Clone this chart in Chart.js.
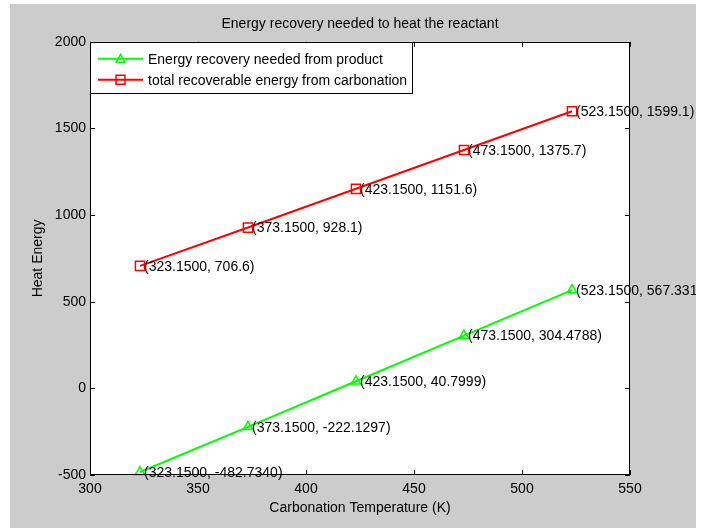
<!DOCTYPE html>
<html>
<head>
<meta charset="utf-8">
<script src="https://cdn.jsdelivr.net/npm/chart.js@4.4.1/dist/chart.umd.min.js"></script>
<style>
  html, body { margin: 0; padding: 0; background: #fff; }
  canvas { display: block; }
</style>
</head>
<body>
<canvas id="chart" width="705" height="529"></canvas>
<script>
// data
const temps = [323.15, 373.15, 423.15, 473.15, 523.15];
const neededFromProduct = [-482.7340, -222.1297, 40.7999, 304.4788, 567.331];
const totalRecoverable = [706.6, 928.1, 1151.6, 1375.7, 1599.1];
const productLabels = ['-482.7340', '-222.1297', '40.7999', '304.4788', '567.331'];
const carbonationLabels = ['706.6', '928.1', '1151.6', '1375.7', '1599.1'];
const xTicks = [300, 350, 400, 450, 500, 550];
const yTicks = [-500, 0, 500, 1000, 1500, 2000];

const FONT = 'Liberation Sans, Arial, sans-serif';
const GREEN = '#00ff00';
const RED = '#ff0000';

// fixed figure box (matlab-like grey frame)
const FIG = { left: 10, top: 4, right: 696, bottom: 528 };

function toPoints(ys) {
    return temps.map((t, i) => ({ x: t, y: ys[i] }));
}

function markerPath(ctx, style, x, y, r) {
    ctx.beginPath();
    if (style === 'triangle') {
        ctx.moveTo(x, y - r);
        ctx.lineTo(x + r * 0.95, y + r * 0.75);
        ctx.lineTo(x - r * 0.95, y + r * 0.75);
        ctx.closePath();
    } else {
        ctx.rect(x - r, y - r, r * 2, r * 2);
    }
    ctx.stroke();
}

const matlabFrame = {
    id: 'matlabFrame',
    beforeDraw(chart) {
        const { ctx, chartArea: a } = chart;
        ctx.save();
        ctx.fillStyle = '#ffffff';
        ctx.fillRect(0, 0, chart.width, chart.height);
        ctx.fillStyle = '#cccccc';
        ctx.fillRect(FIG.left, FIG.top, FIG.right - FIG.left, FIG.bottom - FIG.top);
        ctx.fillStyle = '#ffffff';
        ctx.fillRect(a.left, a.top, a.right - a.left, a.bottom - a.top);
        ctx.restore();
    },
    afterDraw(chart) {
        const { ctx, chartArea: a } = chart;
        const xs = chart.scales.x, ys = chart.scales.y;
        ctx.save();

        // axes box + inward ticks on all sides
        ctx.strokeStyle = '#000';
        ctx.lineWidth = 1;
        ctx.strokeRect(Math.round(a.left) + 0.5, Math.round(a.top) + 0.5,
            Math.round(a.right - a.left) - 1, Math.round(a.bottom - a.top) - 1);
        const tl = 5;
        ctx.beginPath();
        xTicks.forEach(v => {
            const px = Math.round(xs.getPixelForValue(v)) + 0.5;
            ctx.moveTo(px, a.bottom); ctx.lineTo(px, a.bottom - tl);
            ctx.moveTo(px, a.top); ctx.lineTo(px, a.top + tl);
        });
        yTicks.forEach(v => {
            const py = Math.round(ys.getPixelForValue(v)) + 0.5;
            ctx.moveTo(a.left, py); ctx.lineTo(a.left + tl, py);
            ctx.moveTo(a.right, py); ctx.lineTo(a.right - tl, py);
        });
        ctx.stroke();

        // point labels, clipped to the figure
        ctx.beginPath();
        ctx.rect(FIG.left, FIG.top, FIG.right - FIG.left, FIG.bottom - FIG.top);
        ctx.clip();
        ctx.font = '14px ' + FONT;
        ctx.fillStyle = '#000';
        ctx.textAlign = 'left';
        ctx.textBaseline = 'middle';
        const labelSets = [productLabels, carbonationLabels];
        chart.data.datasets.forEach((ds, di) => {
            chart.getDatasetMeta(di).data.forEach((pt, i) => {
                const txt = '(' + temps[i].toFixed(4) + ', ' + labelSets[di][i] + ')';
                ctx.fillText(txt, pt.x + 4, pt.y + 1);
            });
        });

        // legend box
        const lx = Math.round(a.left) + 0.5, ly = Math.round(a.top) + 0.5;
        const lw = 322, lh = 51;
        ctx.fillStyle = '#fff';
        ctx.fillRect(lx, ly, lw, lh);
        ctx.strokeStyle = '#000';
        ctx.lineWidth = 1;
        ctx.strokeRect(lx, ly, lw, lh);
        const rows = [a.top + 17, a.top + 38];
        chart.data.datasets.forEach((ds, di) => {
            const y = rows[di];
            ctx.strokeStyle = ds.borderColor;
            ctx.lineWidth = 2;
            ctx.beginPath();
            ctx.moveTo(a.left + 8, y); ctx.lineTo(a.left + 53, y);
            ctx.stroke();
            ctx.lineWidth = 1.5;
            markerPath(ctx, ds.pointStyle, a.left + 30.5, y, 4.5);
            ctx.fillStyle = '#000';
            ctx.fillText(ds.label, a.left + 58, y + 1);
        });
        ctx.restore();
    }
};

const tickFont = { family: FONT, size: 14 };

new Chart(document.getElementById('chart'), {
    type: 'scatter',
    data: {
        datasets: [{
            label: 'Energy recovery needed from product',
            data: toPoints(neededFromProduct),
            showLine: true,
            borderColor: GREEN,
            borderWidth: 2,
            pointStyle: 'triangle',
            pointRadius: 5.5,
            pointBorderWidth: 1.5,
            pointBorderColor: GREEN,
            pointBackgroundColor: 'rgba(0,0,0,0)',
            clip: 8
        }, {
            label: 'total recoverable energy from carbonation',
            data: toPoints(totalRecoverable),
            showLine: true,
            borderColor: RED,
            borderWidth: 2,
            pointStyle: 'rect',
            pointRadius: 6.5,
            pointBorderWidth: 1.5,
            pointBorderColor: RED,
            pointBackgroundColor: 'rgba(0,0,0,0)',
            clip: 8
        }]
    },
    options: {
        responsive: false,
        animation: false,
        layout: { padding: { left: 10, top: 4, right: 75, bottom: 1 } },
        plugins: {
            legend: { display: false },
            tooltip: { enabled: false },
            title: {
                display: true,
                text: 'Energy recovery needed to heat the reactant',
                fullSize: false,
                color: '#000',
                font: { family: FONT, size: 14, weight: 'normal' },
                padding: { top: 12, bottom: 9 }
            }
        },
        scales: {
            x: {
                type: 'linear',
                min: 300,
                max: 550,
                afterBuildTicks: s => { s.ticks = xTicks.map(v => ({ value: v })); },
                afterFit: s => { s.height = 53; },
                grid: { display: false, drawTicks: false },
                border: { display: false },
                ticks: { color: '#000', font: tickFont, padding: 6, maxRotation: 0, autoSkip: false,
                    callback: v => String(v) },
                title: {
                    display: true,
                    text: 'Carbonation Temperature (K)',
                    color: '#000',
                    font: tickFont,
                    padding: { top: 0, bottom: 11 }
                }
            },
            y: {
                type: 'linear',
                min: -500,
                max: 2000,
                afterBuildTicks: s => { s.ticks = yTicks.map(v => ({ value: v })); },
                afterFit: s => { s.width = 80; },
                grid: { display: false, drawTicks: false },
                border: { display: false },
                ticks: { color: '#000', font: tickFont, padding: 4, autoSkip: false,
                    callback: v => String(v) },
                title: {
                    display: true,
                    text: 'Heat Energy',
                    color: '#000',
                    font: tickFont,
                    padding: { top: 20, bottom: 0 }
                }
            }
        }
    },
    plugins: [matlabFrame]
});
</script>
</body>
</html>
